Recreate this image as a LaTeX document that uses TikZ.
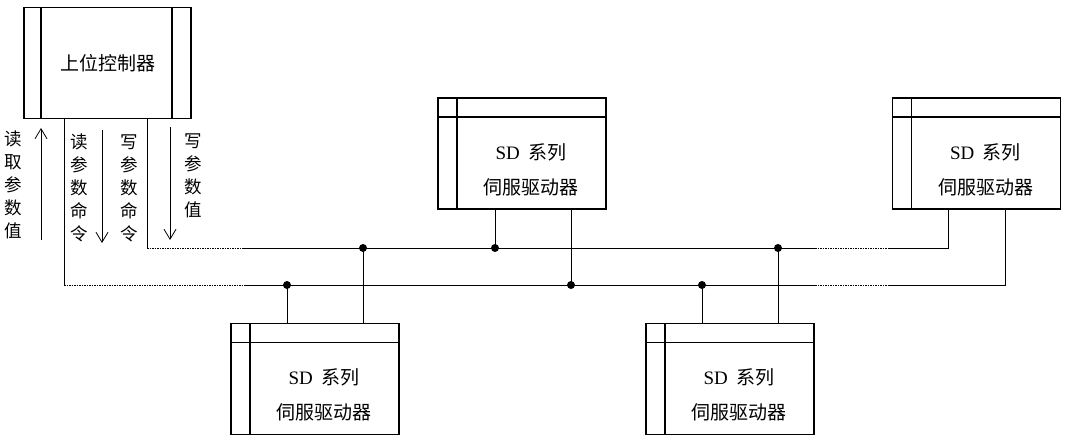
\documentclass[tikz,border=0pt]{standalone}
\usepackage{fontspec}
\setmainfont{Liberation Serif}
\newfontfamily\cjk{Noto Sans CJK SC}
\usetikzlibrary{positioning,arrows.meta}

\begin{document}
\begin{tikzpicture}[
    x=1pt, y=-1pt,
    every node/.style={inner sep=0pt},
    boxline/.style={line width=1.6pt},
    ctrlbox/.style={draw, boxline, minimum width=167pt, minimum height=111pt,
        font=\cjk\fontsize{19}{23}\selectfont,
        path picture={
            \draw[boxline] ([xshift=17pt]path picture bounding box.south west) -- ([xshift=17pt]path picture bounding box.north west);
            \draw[boxline] ([xshift=-19pt]path picture bounding box.south east) -- ([xshift=-19pt]path picture bounding box.north east);
        }},
    drvbox/.style={draw, boxline, minimum width=168pt, minimum height=111pt,
        path picture={
            \draw[boxline] ([xshift=19pt]path picture bounding box.south west) -- ([xshift=19pt]path picture bounding box.north west);
            \draw[boxline] ([yshift=-19pt]path picture bounding box.north west) -- ([yshift=-19pt]path picture bounding box.north east);
        }},
    drvtext/.style={align=center, font=\fontsize{19}{35}\selectfont},
    vtext/.style={align=center, font=\cjk\fontsize{17.5}{23}\selectfont},
    conn/.style={line width=0.7pt},
    fade/.style={conn, dash pattern=on 1.6pt off 0.9pt},
    arr/.style={conn, -{Straight Barb[length=10pt,width=12pt,line width=0.8pt]}},
    tap/.style={circle, fill, minimum size=8pt}
]
\useasboundingbox (0,0) rectangle (1065,436);

% controller and drives
\node[ctrlbox] (ctrl) at (107.5,63) {上位控制器};
\node[drvbox] (d1) at (522,153.5) {};
\node[drvbox] (d2) at (976.5,153.5) {};
\node[drvbox] (d3) at (315,379) {};
\node[drvbox] (d4) at (730,379) {};

\foreach \d in {d1,d2,d3,d4}
  \node[drvtext] (\d t) at ([xshift=9pt,yshift=-16pt]\d.center) {SD\hspace{0.45em}{\cjk 系列}\\{\cjk 伺服驱动器}};

% bus lines
\coordinate (wrL) at (147,248);
\coordinate (wrS) at (242,248);
\coordinate (wrE) at (815,248);
\coordinate (wrR) at (888,248);
\coordinate (rdL) at (64,285);
\coordinate (rdS) at (245,285);
\coordinate (rdE) at (815,285);
\coordinate (rdR) at (888,285);

\draw[conn] (ctrl.south -| wrL) -- (wrL);
\draw[fade] (wrL) -- (wrS);
\draw[conn] (wrS) -- (wrE);
\draw[fade] (wrE) -- (wrR);
\draw[conn] (wrR) -| (d2.south -| 948,0);

\draw[conn] (ctrl.south -| rdL) -- (rdL);
\draw[fade] (rdL) -- (rdS);
\draw[conn] (rdS) -- (rdE);
\draw[fade] (rdE) -- (rdR);
\draw[conn] (rdR) -| (d2.south -| 1005,0);

% taps
\node[tap] (w1) at (363,248) {};
\node[tap] (w2) at (495,248) {};
\node[tap] (w3) at (778,248) {};
\node[tap] (r1) at (287,285) {};
\node[tap] (r2) at (571,285) {};
\node[tap] (r3) at (702,285) {};

\draw[conn] (d1.south -| w2) -- (w2.center);
\draw[conn] (d1.south -| r2) -- (r2.center);
\draw[conn] (d3.north -| r1) -- (r1.center);
\draw[conn] (d3.north -| w1) -- (w1.center);
\draw[conn] (d4.north -| r3) -- (r3.center);
\draw[conn] (d4.north -| w3) -- (w3.center);

% read / write signals
\node[vtext] (rdval) at (13,185) {读\\取\\参\\数\\值};
\node[vtext] (rdcmd) at (79,188) {读\\参\\数\\命\\令};
\node[vtext] (wrcmd) at (129,188) {写\\参\\数\\命\\令};
\node[vtext] (wrval) at (193,176) {写\\参\\数\\值};

\coordinate (a1s) at (41,240);
\coordinate (a1e) at (41,128);
\coordinate (a2s) at (102,130);
\coordinate (a2e) at (102,243);
\coordinate (a3s) at (170,127);
\coordinate (a3e) at (170,240);
\draw[arr] (a1s) -- (a1e);
\draw[arr] (a2s) -- (a2e);
\draw[arr] (a3s) -- (a3e);
\end{tikzpicture}
\end{document}
